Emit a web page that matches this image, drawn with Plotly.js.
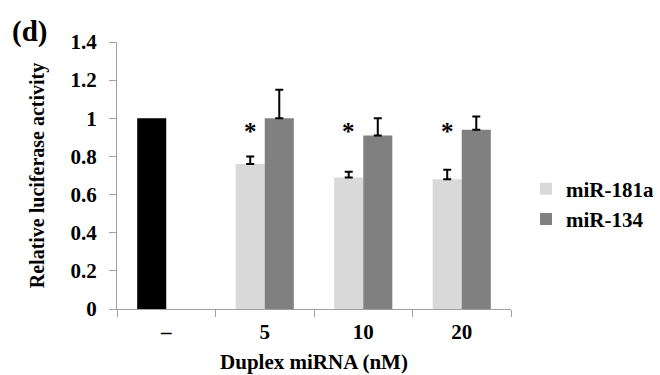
<!DOCTYPE html>
<html>
<head>
<meta charset="utf-8">
<script src="https://cdn.plot.ly/plotly-3.0.1.min.js"></script>
<style>html,body{margin:0;padding:0;background:#fff;}#chart{width:660px;height:375px;}</style>
</head>
<body>
<div id="chart"></div>
<script>
const categories = ['–', '5', '10', '20'];
const controlCategory = ['–'];
const controlValue = [1.0];
const doseCategories = ['5', '10', '20'];
const mir181a = [0.76, 0.69, 0.68];
const mir181aErr = [0.04, 0.03, 0.05];
const mir134 = [1.0, 0.91, 0.94];
const mir134Err = [0.15, 0.09, 0.07];
const starY = [0.93, 0.93, 0.93];

const font = 'Liberation Serif, Times New Roman, serif';

const traces = [
  {
    type: 'bar', x: controlCategory, y: controlValue, name: 'Control',
    marker: {color: '#000000'}, offsetgroup: 'a', showlegend: false
  },
  {
    type: 'bar', x: doseCategories, y: mir181a, name: 'miR-181a',
    marker: {color: '#d9d9d9'}, offsetgroup: 'a',
    error_y: {type: 'data', array: mir181aErr, arrayminus: [0,0,0], symmetric: false, color: '#000', thickness: 2, width: 4}
  },
  {
    type: 'bar', x: doseCategories, y: mir134, name: 'miR-134',
    marker: {color: '#808080'}, offsetgroup: 'b',
    error_y: {type: 'data', array: mir134Err, arrayminus: [0,0,0], symmetric: false, color: '#000', thickness: 2, width: 4}
  }
];

const annotations = doseCategories.map((c, i) => ({
  x: categories.indexOf(c), y: starY[i], xref: 'x', yref: 'y', text: '<b>*</b>', showarrow: false,
  xanchor: 'center', yanchor: 'middle',
  xshift: -14.5, font: {family: font, size: 25, color: '#000'}
}));
annotations.push({
  x: -0.223, y: 1.041, xref: 'paper', yref: 'paper', xanchor: 'center', yanchor: 'middle',
  text: '<b>(d)</b>', showarrow: false, font: {family: font, size: 29, color: '#000'}
});

const layout = {
  width: 660, height: 375,
  margin: {l: 117, r: 149, t: 42, b: 66, autoexpand: false},
  paper_bgcolor: '#fff', plot_bgcolor: '#fff',
  barmode: 'group', bargap: 0.41, bargroupgap: 0,
  showlegend: true,
  legend: {x: 0.797, y: 0.456, xref: 'container', yref: 'container', xanchor: 'left', yanchor: 'middle',
    font: {family: font, size: 21, color: '#000', weight: 'bold'},
    itemwidth: 30, tracegroupgap: 0},
  xaxis: {
    type: 'category', categoryorder: 'array', categoryarray: categories,
    range: [-0.5, 3.5],
    showline: true, linecolor: '#a0a0a0', linewidth: 1,
    ticks: 'outside', tickson: 'boundaries', ticklen: 7, tickcolor: '#a0a0a0',
    ticklabelstandoff: 4,
    tickfont: {family: font, size: 21, color: '#000', weight: 'bold'},
    showgrid: false, zeroline: false,
    title: {text: '<b>Duplex miRNA (nM)</b>', font: {family: font, size: 21, color: '#000'}, standoff: 11}
  },
  yaxis: {
    range: [0, 1.4], tickvals: [0,0.2,0.4,0.6,0.8,1,1.2,1.4],
    ticktext: ['0','0.2','0.4','0.6','0.8','1','1.2','1.4'],
    showline: true, linecolor: '#a0a0a0', linewidth: 1,
    ticks: 'outside', ticklen: 7, tickcolor: '#a0a0a0',
    ticklabelstandoff: 8,
    tickfont: {family: font, size: 21, color: '#000', weight: 'bold'},
    showgrid: false, zeroline: false,
    title: {text: '<b>Relative luciferase activity</b>', font: {family: font, size: 20, color: '#000'}, standoff: 20}
  },
  annotations: annotations
};

Plotly.newPlot('chart', traces, layout, {displayModeBar: false, staticPlot: true});
</script>
</body>
</html>
